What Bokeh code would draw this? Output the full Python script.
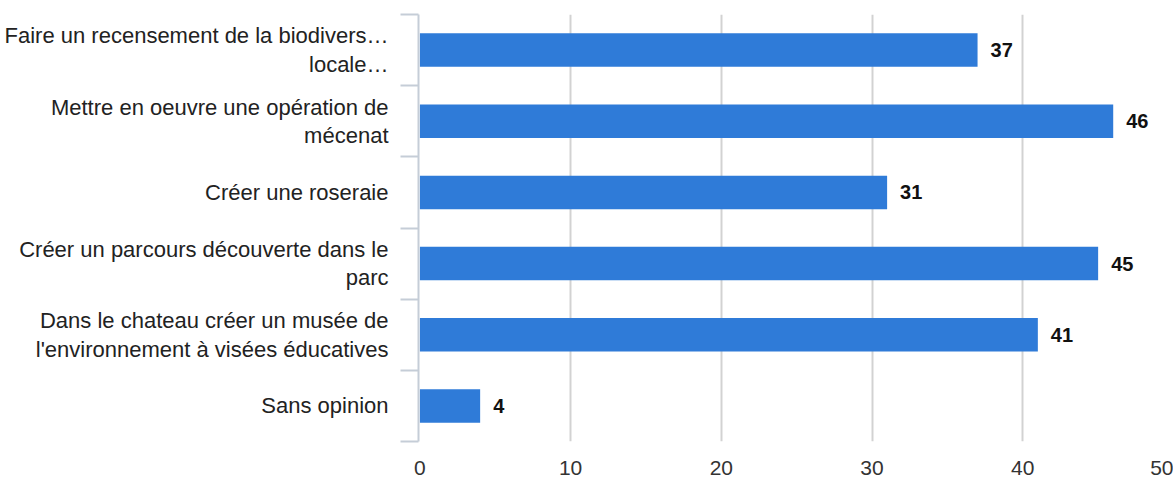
from bokeh.plotting import figure
from bokeh.models import Range1d, FixedTicker, LabelSet, ColumnDataSource
from bokeh.embed import file_html
from bokeh.resources import INLINE
from bokeh.core.properties import value

categories = [
    "Faire un recensement de la biodivers…\nlocale…",
    "Mettre en oeuvre une opération de\nmécenat",
    "Créer une roseraie",
    "Créer un parcours découverte dans le\nparc",
    "Dans le chateau créer un musée de\nl'environnement à visées éducatives",
    "Sans opinion",
]
counts = [37, 46, 31, 45, 41, 4]
x_ticks = [0, 10, 20, 30, 40, 50]

positions = list(range(len(categories)))
boundaries = [i - 0.5 for i in range(len(categories) + 1)]

FONT = "Liberation Sans"
BAR_COLOR = "#2f7bd8"
AXIS_COLOR = "#c5cdd7"

src = ColumnDataSource(dict(
    pos=positions,
    count=counts,
    label=[str(c) for c in counts],
))

p = figure(width=1173, height=477, output_backend="svg", toolbar_location=None,
           x_range=Range1d(-0.09, 50), y_range=Range1d(5.5, -0.5),
           min_border_left=418, min_border_right=0, min_border_top=14,
           min_border_bottom=0)
p.outline_line_color = None
p.background_fill_color = "white"
p.border_fill_color = "white"

p.hbar(y="pos", right="count", left=0, height=0.47, source=src,
       fill_color=BAR_COLOR, line_color=None)

labels = LabelSet(x="count", y="pos", text="label", source=src,
                  x_offset=13, text_baseline="middle", text_align="left",
                  text_font=value(FONT), text_font_size="20px",
                  text_font_style="bold", text_color="#111111")
p.add_layout(labels)

# x axis
xa = p.xaxis[0]
xa.ticker = FixedTicker(ticks=x_ticks)
xa.axis_line_color = None
xa.major_tick_line_color = None
xa.minor_tick_line_color = None
xa.major_tick_out = 0
xa.major_tick_in = 0
xa.major_label_standoff = 19
xa.major_label_text_font = FONT
xa.major_label_text_font_size = "21px"
xa.major_label_text_color = "#333333"
xa.major_label_text_line_height = 0.9

# y axis
ya = p.yaxis[0]
ya.ticker = FixedTicker(ticks=positions, minor_ticks=boundaries)
ya.major_label_overrides = {i: c for i, c in zip(positions, categories)}
ya.major_tick_out = 0
ya.major_tick_in = 0
ya.major_tick_line_color = None
ya.minor_tick_out = 18
ya.minor_tick_in = 0
ya.minor_tick_line_color = AXIS_COLOR
ya.minor_tick_line_width = 2
ya.axis_line_color = AXIS_COLOR
ya.axis_line_width = 2
ya.major_label_standoff = 12
ya.major_label_text_font = FONT
ya.major_label_text_font_size = "22px"
ya.major_label_text_color = "#222222"
ya.major_label_text_line_height = 1.14

p.xgrid.ticker = FixedTicker(ticks=x_ticks[1:])
p.xgrid.grid_line_color = "#d2d2d2"
p.xgrid.grid_line_width = 2
p.ygrid.grid_line_color = None

open("out.html", "w").write(file_html(p, INLINE))
